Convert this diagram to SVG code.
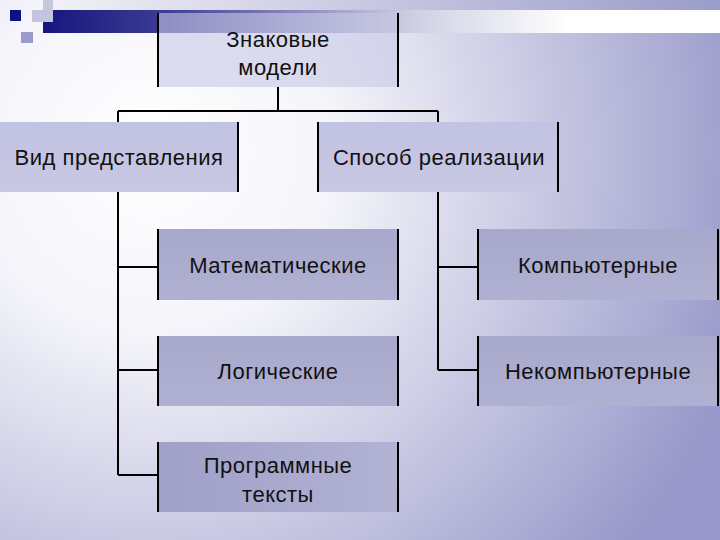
<svg xmlns="http://www.w3.org/2000/svg" width="720" height="540" viewBox="0 0 720 540">
  <defs>
    <radialGradient id="bg" cx="150" cy="150" r="620" gradientUnits="userSpaceOnUse">
      <stop offset="0" stop-color="#ffffff"/>
      <stop offset="0.3" stop-color="#f4f4fa"/>
      <stop offset="1" stop-color="#9898ca"/>
    </radialGradient>
    <linearGradient id="topstrip" x1="0" y1="0" x2="1" y2="0">
      <stop offset="0" stop-color="#f0f0f6"/>
      <stop offset="1" stop-color="#9a9cca"/>
    </linearGradient>
    <linearGradient id="bar" x1="43" y1="0" x2="720" y2="0" gradientUnits="userSpaceOnUse">
      <stop offset="0" stop-color="#16167e"/>
      <stop offset="0.18" stop-color="#3c3c94"/>
      <stop offset="0.55" stop-color="#d0d0e4"/>
      <stop offset="0.78" stop-color="#ffffff"/>
      <stop offset="1" stop-color="#ffffff"/>
    </linearGradient>
    <linearGradient id="boxLight" x1="0" y1="0" x2="0" y2="1">
      <stop offset="0" stop-color="#c2c2e2"/>
      <stop offset="1" stop-color="#c8c8e4"/>
    </linearGradient>
    <linearGradient id="boxMid" x1="0" y1="0" x2="0" y2="1">
      <stop offset="0" stop-color="#a8a8cc"/>
      <stop offset="1" stop-color="#b0b0d2"/>
    </linearGradient>
    <linearGradient id="boxDark" x1="0" y1="0" x2="1" y2="0">
      <stop offset="0" stop-color="#a0a0c8"/>
      <stop offset="1" stop-color="#b2b2d4"/>
    </linearGradient>
  </defs>
  <style>
    .t { font-family: "Liberation Sans", Arial, sans-serif; font-size: 22px; letter-spacing: 0.5px; fill: #111111; text-anchor: middle; }
    .edge { stroke: #000000; stroke-width: 2; fill: none; }
    .conn { stroke: #000000; stroke-width: 2; fill: none; }
  </style>

  <!-- background -->
  <rect x="0" y="0" width="720" height="540" fill="url(#bg)"/>
  <rect x="53" y="0" width="667" height="10" fill="url(#topstrip)"/>
  <rect x="43" y="10" width="677" height="23" fill="url(#bar)"/>
  <rect x="43" y="0" width="10" height="10" fill="#c8c8dc"/>
  <rect x="32" y="10" width="21" height="12" fill="#c4c4e0"/>
  <rect x="10" y="10" width="11" height="11" fill="#10108c"/>
  <rect x="21" y="32" width="12" height="11" fill="#9a9acc"/>

  <!-- connectors -->
  <g id="connectors">
    <path class="conn" d="M278 87 V111 M118 111 H438 M118 111 V122 M438 111 V122"/>
    <path class="conn" d="M118 192 V475 M118 267 H158 M118 370 H158 M118 475 H158"/>
    <path class="conn" d="M438 192 V370 M438 267 H478 M438 370 H478"/>
  </g>

  <g id="node-root">
    <rect x="158" y="13" width="240" height="74" fill="#c8c8e6" fill-opacity="0.6"/>
    <path class="edge" d="M158 13 V87 M398 13 V87"/>
    <text class="t" x="278" y="47">Знаковые</text>
    <text class="t" x="278" y="75">модели</text>
  </g>

  <g id="node-vid">
    <rect x="0" y="122" width="238" height="70" fill="url(#boxLight)"/>
    <path class="edge" d="M238 122 V192"/>
    <text class="t" x="119" y="165">Вид представления</text>
  </g>

  <g id="node-sposob">
    <rect x="318" y="122" width="240" height="70" fill="url(#boxLight)"/>
    <path class="edge" d="M318 122 V192 M558 122 V192"/>
    <text class="t" x="439" y="165">Способ реализации</text>
  </g>

  <g id="node-math">
    <rect x="158" y="229" width="240" height="71" fill="url(#boxMid)"/>
    <path class="edge" d="M158 229 V300 M398 229 V300"/>
    <text class="t" x="278" y="273">Математические</text>
  </g>

  <g id="node-logic">
    <rect x="158" y="336" width="240" height="70" fill="url(#boxMid)"/>
    <path class="edge" d="M158 336 V406 M398 336 V406"/>
    <text class="t" x="278" y="379">Логические</text>
  </g>

  <g id="node-prog">
    <rect x="158" y="442" width="240" height="70" fill="url(#boxDark)"/>
    <path class="edge" d="M158 442 V512 M398 442 V512"/>
    <text class="t" x="278" y="473">Программные</text>
    <text class="t" x="278" y="502">тексты</text>
  </g>

  <g id="node-comp">
    <rect x="478" y="229" width="240" height="71" fill="url(#boxMid)"/>
    <path class="edge" d="M478 229 V300 M718 229 V300"/>
    <text class="t" x="598" y="273">Компьютерные</text>
  </g>

  <g id="node-noncomp">
    <rect x="478" y="336" width="240" height="70" fill="url(#boxMid)"/>
    <path class="edge" d="M478 336 V406 M718 336 V406"/>
    <text class="t" x="598" y="379">Некомпьютерные</text>
  </g>
</svg>
